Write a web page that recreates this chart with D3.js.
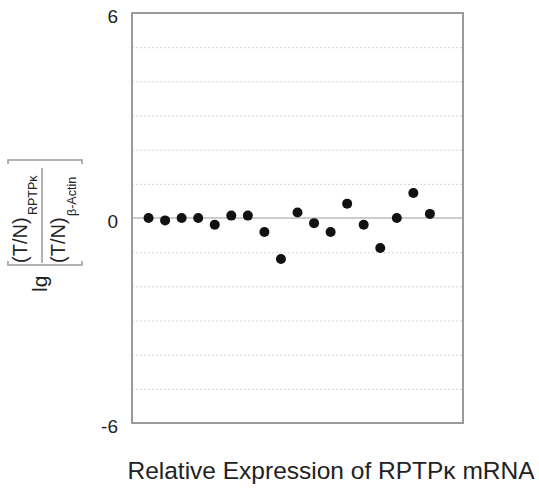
<!DOCTYPE html>
<html>
<head>
<meta charset="utf-8">
<script src="https://cdn.jsdelivr.net/npm/d3@7"></script>
<style>
    body { margin: 0; background: #fff; }
    svg text { font-family: "Liberation Sans", Arial, sans-serif; fill: #222; }
</style>
</head>
<body>
<div id="chart"></div>
<script>
// samples, one dot each (lg of ratio)
const samples = d3.range(1, 19);
const values = [0, -0.07, 0, 0, -0.2, 0.07, 0.07, -0.41, -1.2, 0.16, -0.15, -0.41, 0.42, -0.2, -0.88, 0, 0.73, 0.12];
const yTicks = [-6, 0, 6];
const gridTicks = [-5, -4, -3, -2, -1, 1, 2, 3, 4, 5];

const width = 539;
const height = 488;
const margin = { top: 13, right: 76, bottom: 65, left: 132 };
const innerWidth = width - margin.left - margin.right;
const innerHeight = height - margin.top - margin.bottom;

const svg = d3.select("#chart")
    .append("svg")
    .attr("width", width)
    .attr("height", height);

const chart = svg.append("g")
    .attr("transform", `translate(${margin.left},${margin.top})`);

const x = d3.scaleLinear()
    .domain([0, 20])
    .range([0, innerWidth]);

const y = d3.scaleLinear()
    .domain([-6, 6])
    .range([innerHeight, 0]);

// dotted grid
chart.append("g")
    .call(d3.axisLeft(y).tickValues(gridTicks).tickSize(-innerWidth).tickFormat(""))
    .call(g => g.select(".domain").remove())
    .selectAll("line")
    .attr("stroke", "#d4d4d4")
    .attr("stroke-dasharray", "2,2");

// zero line
chart.append("line")
    .attr("x1", 0)
    .attr("x2", innerWidth)
    .attr("y1", y(0))
    .attr("y2", y(0))
    .attr("stroke", "#bdbdbd")
    .attr("stroke-width", 1.5);

chart.append("rect")
    .attr("width", innerWidth)
    .attr("height", innerHeight)
    .attr("fill", "none")
    .attr("stroke", "#9a9a9a")
    .attr("stroke-width", 2);

chart.append("g")
    .call(d3.axisLeft(y).tickValues(yTicks).tickSize(0).tickPadding(14).tickFormat(d => String(d)))
    .call(g => g.select(".domain").remove())
    .selectAll("text")
    .attr("font-size", 19)
    .attr("dy", "0.5em");

chart.selectAll("circle")
    .data(samples)
    .enter()
    .append("circle")
    .attr("cx", d => x(d))
    .attr("cy", (d, i) => y(values[i]))
    .attr("r", 5)
    .attr("fill", "#111");

// x title
svg.append("text")
    .attr("x", 331)
    .attr("y", 479)
    .attr("text-anchor", "middle")
    .attr("font-size", 24.5)
    .text("Relative Expression of RPTPκ mRNA");

// y title: lg [ (T/N)RPTPκ / (T/N)β-Actin ]
const yl = svg.append("g")
    .attr("transform", "translate(0,290) rotate(-90)");

yl.append("text")
    .attr("x", -2)
    .attr("y", 47)
    .attr("font-size", 21)
    .text("lg");

yl.append("text")
    .attr("x", 27)
    .attr("y", 27)
    .attr("font-size", 20)
    .text("(T/N)");

yl.append("text")
    .attr("x", 75)
    .attr("y", 37)
    .attr("font-size", 12.5)
    .text("RPTPκ");

yl.append("line")
    .attr("x1", 27)
    .attr("x2", 122)
    .attr("y1", 42)
    .attr("y2", 42)
    .attr("stroke", "#999")
    .attr("stroke-width", 1.5);

yl.append("text")
    .attr("x", 27)
    .attr("y", 65)
    .attr("font-size", 20)
    .text("(T/N)");

yl.append("text")
    .attr("x", 74)
    .attr("y", 76)
    .attr("font-size", 12.5)
    .text("β-Actin");

const bracket = d3.line();
yl.append("path")
    .attr("d", bracket([[29, 8], [25, 8], [25, 82], [29, 82]]))
    .attr("fill", "none")
    .attr("stroke", "#999")
    .attr("stroke-width", 1.5);
yl.append("path")
    .attr("d", bracket([[126, 8], [130, 8], [130, 82], [126, 82]]))
    .attr("fill", "none")
    .attr("stroke", "#999")
    .attr("stroke-width", 1.5);
</script>
</body>
</html>
